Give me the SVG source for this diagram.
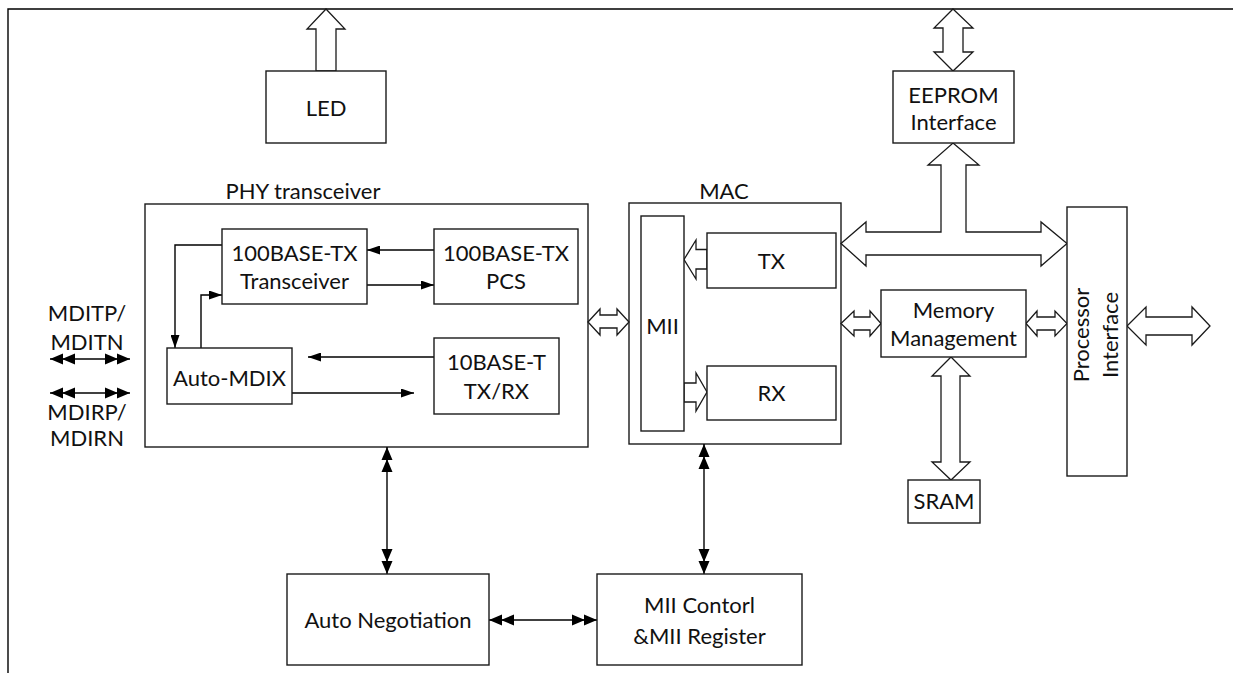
<svg xmlns="http://www.w3.org/2000/svg" width="1233" height="673" viewBox="0 0 1233 673">
<style>
  .box{fill:#fff;stroke:#1a1a1a;stroke-width:1.4}
  .frame{fill:none;stroke:#1a1a1a;stroke-width:1.4}
  .big{fill:#fff;stroke:#1a1a1a;stroke-width:1.3;stroke-linejoin:miter}
  .ln{fill:none;stroke:#000;stroke-width:1.4}
  .t{font-family:Lato,"Liberation Sans",sans-serif;font-size:22px;fill:#111;text-anchor:middle}
</style>
<defs>
  <marker id="ah" viewBox="0 0 13 9" refX="13" refY="4.5" markerWidth="13" markerHeight="9" markerUnits="userSpaceOnUse" orient="auto">
    <path d="M0,0 L13,4.5 L0,9 Z" fill="#000"/>
  </marker>
  <marker id="dh" viewBox="0 0 26 12" refX="26" refY="6" markerWidth="26" markerHeight="12" markerUnits="userSpaceOnUse" orient="auto-start-reverse">
    <path d="M26,6 L13,0.5 L13,11.5 Z M14,6 L1,0.5 L1,11.5 Z" fill="#000"/>
  </marker>
</defs>
<rect width="1233" height="673" fill="#fff"/>
<path class="ln" d="M8,673 V9 H1233" stroke-width="1.5"/>

<g id="phy">
  <rect class="frame" x="145" y="204" width="443" height="243"/>
  <text class="t" x="303" y="199">PHY transceiver</text>
</g>
<g id="mac">
  <rect class="frame" x="629" y="203" width="212" height="241"/>
  <text class="t" x="724" y="199">MAC</text>
</g>

<g id="connectors">
  <polygon class="big" points="316,71 316,29 307,29 326,9 345,29 336,29 336,71"/>
  <polygon class="big" points="953,9 973,28 963,28 963,52 973,52 953,71 934,52 943,52 943,28 934,28"/>
  <polygon class="big" points="953,143 979,165 966,165 966,232 1041,232 1041,222 1067,243.5 1041,266 1041,255 866,255 866,266 841,243.5 866,222 866,232 941,232 941,165 928,165"/>
  <polygon class="big" points="588,322 600,309 600,315 617,315 617,309 629,322 617,335 617,328 600,328 600,335"/>
  <polygon class="big" points="841,323.5 854,311 854,317 870,317 870,311 881,323.5 870,336 870,330 854,330 854,336"/>
  <polygon class="big" points="1026,323.5 1037,311 1037,317 1055,317 1055,311 1067,323.5 1055,336 1055,330 1037,330 1037,336"/>
  <polygon class="big" points="1127,326 1146,307 1146,317 1192,317 1192,307 1210,326 1192,345 1192,335 1146,335 1146,345"/>
  <polygon class="big" points="951,357 970,376 960,376 960,462 970,462 951,480 932,462 941,462 941,376 932,376"/>
  <polygon class="big" points="684,259.5 696,240 696,249.5 707,249.5 707,269 696,269 696,279"/>
  <polygon class="big" points="684,383 696,383 696,373 707,392 696,411 696,402 684,402"/>

  <path class="ln" d="M434,250 H367" marker-end="url(#ah)"/>
  <path class="ln" d="M367,285 H434" marker-end="url(#ah)"/>
  <path class="ln" d="M222,245 H175 V348" marker-end="url(#ah)"/>
  <path class="ln" d="M201,348 V295 H222" marker-end="url(#ah)"/>
  <path class="ln" d="M434,357 H308" marker-end="url(#ah)"/>
  <path class="ln" d="M292,393 H414" marker-end="url(#ah)"/>

  <path class="ln" d="M387,447 V574" marker-start="url(#dh)" marker-end="url(#dh)"/>
  <path class="ln" d="M704,444 V574" marker-start="url(#dh)" marker-end="url(#dh)"/>
  <path class="ln" d="M489,620 H597" marker-start="url(#dh)" marker-end="url(#dh)"/>
  <path class="ln" d="M50,359 H130" marker-start="url(#dh)" marker-end="url(#dh)"/>
  <path class="ln" d="M50,393 H130" marker-start="url(#dh)" marker-end="url(#dh)"/>
</g>

<g id="led">
  <rect class="box" x="266" y="71" width="120" height="72"/>
  <text class="t" x="326" y="116">LED</text>
</g>
<g id="eeprom">
  <rect class="box" x="893" y="71" width="121" height="72"/>
  <text class="t" x="953.5" y="103">EEPROM</text>
  <text class="t" x="953.5" y="130">Interface</text>
</g>

<g id="tx100">
  <rect class="box" x="222" y="229" width="145" height="75"/>
  <text class="t" x="294.5" y="261">100BASE-TX</text>
  <text class="t" x="294.5" y="289">Transceiver</text>
</g>
<g id="pcs100">
  <rect class="box" x="434" y="229" width="144" height="75"/>
  <text class="t" x="506" y="261">100BASE-TX</text>
  <text class="t" x="506" y="289">PCS</text>
</g>
<g id="automdix">
  <rect class="box" x="167" y="348" width="125" height="56"/>
  <text class="t" x="229.5" y="386">Auto-MDIX</text>
</g>
<g id="base10">
  <rect class="box" x="434" y="338" width="125" height="76"/>
  <text class="t" x="496.5" y="370">10BASE-T</text>
  <text class="t" x="496.5" y="399">TX/RX</text>
</g>

<g id="mii">
  <rect class="box" x="641" y="216" width="43" height="215"/>
  <text class="t" x="662.5" y="334">MII</text>
</g>
<g id="tx">
  <rect class="box" x="707" y="233" width="129" height="55"/>
  <text class="t" x="771.5" y="269">TX</text>
</g>
<g id="rx">
  <rect class="box" x="707" y="366" width="129" height="54"/>
  <text class="t" x="771.5" y="401">RX</text>
</g>

<g id="memory">
  <rect class="box" x="881" y="290" width="145" height="67"/>
  <text class="t" x="953.5" y="318">Memory</text>
  <text class="t" x="953.5" y="346">Management</text>
</g>
<g id="processor">
  <rect class="box" x="1067" y="207" width="60" height="269"/>
  <g transform="translate(1096,335) rotate(-90)">
    <text class="t" x="0" y="-7">Processor</text>
    <text class="t" x="0" y="21.5">Interface</text>
  </g>
</g>
<g id="sram">
  <rect class="box" x="908" y="480" width="72" height="43"/>
  <text class="t" x="944" y="509">SRAM</text>
</g>

<g id="autoneg">
  <rect class="box" x="287" y="574" width="202" height="91"/>
  <text class="t" x="388" y="628">Auto Negotiation</text>
</g>
<g id="miictl">
  <rect class="box" x="597" y="574" width="205" height="91"/>
  <text class="t" x="699.5" y="613">MII Contorl</text>
  <text class="t" x="699.5" y="644">&amp;MII Register</text>
</g>

<g id="mdi-labels">
  <text class="t" x="87" y="321">MDITP/</text>
  <text class="t" x="87" y="350">MDITN</text>
  <text class="t" x="87" y="420">MDIRP/</text>
  <text class="t" x="87" y="446">MDIRN</text>
</g>
</svg>
